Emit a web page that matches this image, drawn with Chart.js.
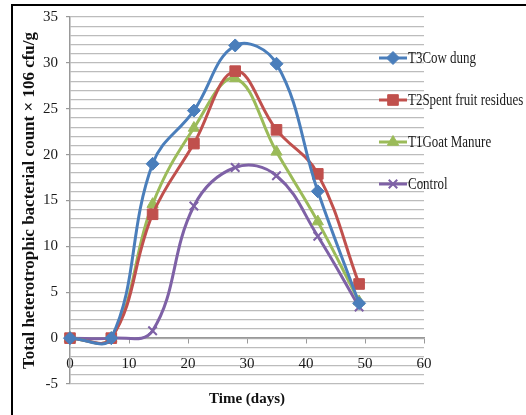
<html>
  <head>
    <title>Heterotrophic bacterial count</title>
    <style>
      body {
        margin: 0;
        background: #fff;
      }
      .frame {
        position: absolute;
        left: 11px;
        top: 4px;
        width: 520px;
        height: 420px;
        border-left: 2px solid #000;
        border-top: 2px solid #000;
      }
      .wrap {
        position: absolute;
        left: 0;
        top: 0;
        width: 526px;
        height: 415px;
      }
    </style>
  </head>
  <body>
    <div class="frame"></div>
    <div class="wrap">
      <canvas id="chart" width="526" height="415"></canvas>
    </div>

    <script src="https://cdn.jsdelivr.net/npm/chart.js@4"></script>
    <script type="text/javascript">
      const days = [0, 7, 14, 21, 28, 35, 42, 49];
      const cowDung = [0, 0, 19.0, 24.8, 31.9, 29.9, 16.0, 3.8];
      const spentFruit = [0, 0, 13.5, 21.2, 29.1, 22.7, 17.9, 5.9];
      const goatManure = [0, 0, 14.6, 22.9, 28.3, 20.3, 12.7, 4.0];
      const control = [0, 0, 0.8, 14.4, 18.6, 17.7, 11.1, 3.4];

      const serif = "'Liberation Serif', 'Times New Roman', serif";
      const gridGray = '#bcbcbc';

      const toPoints = (values) => values.map((v, i) => ({ x: days[i], y: v }));

      function series(label, values, color, pointStyle, radius) {
        return {
          label,
          data: toPoints(values),
          borderColor: color,
          backgroundColor: color,
          borderWidth: 3,
          pointStyle,
          pointRadius: radius,
          pointBorderWidth: pointStyle === 'crossRot' ? 2 : 1,
          tension: 0.4,
          clip: false,
        };
      }

      // legend drawn beside the plot, overlapping the grid like the original
      const sideLegend = {
        id: 'sideLegend',
        afterDraw(chart) {
          const { ctx, chartArea } = chart;
          ctx.save();
          chart.data.datasets.forEach((ds, i) => {
            const y = chartArea.top + 41 + i * 42;
            const x0 = chartArea.right - 45;
            ctx.strokeStyle = ds.borderColor;
            ctx.fillStyle = ds.backgroundColor;
            ctx.lineWidth = 3;
            ctx.beginPath();
            ctx.moveTo(x0, y);
            ctx.lineTo(x0 + 28, y);
            ctx.stroke();
            ctx.lineWidth = ds.pointBorderWidth;
            Chart.helpers.drawPoint(
              ctx,
              { pointStyle: ds.pointStyle, radius: ds.pointRadius, borderWidth: ds.pointBorderWidth, rotation: 0 },
              x0 + 14,
              y,
            );
            // the original text is a little narrow, squeeze it sideways
            ctx.save();
            ctx.translate(x0 + 29, y + 1);
            ctx.scale(0.81, 1);
            ctx.fillStyle = '#1a1a1a';
            ctx.font = '16px ' + serif;
            ctx.textBaseline = 'middle';
            ctx.fillText(ds.label, 0, 0);
            ctx.restore();
          });
          ctx.restore();
        },
      };

      new Chart(document.getElementById('chart'), {
        type: 'line',
        data: {
          datasets: [
            series('T3Cow dung', cowDung, '#4a7ebb', 'rectRot', 6.5),
            series('T2Spent fruit residues', spentFruit, '#c0504d', 'rect', 7.5),
            series('T1Goat Manure', goatManure, '#9bbb59', 'triangle', 6.5),
            series('Control', control, '#7e61a6', 'crossRot', 6),
          ],
        },
        options: {
          responsive: false,
          animation: false,
          layout: { padding: { top: 15, right: 102, bottom: 31, left: 0 } },
          plugins: {
            legend: { display: false },
            tooltip: { enabled: false },
          },
          scales: {
            x: {
              type: 'linear',
              min: 0,
              max: 60,
              position: { y: 0 },
              grid: {
                drawOnChartArea: false,
                drawTicks: true,
                tickLength: 5,
                tickColor: '#999',
              },
              border: { color: '#999', width: 1.5 },
              ticks: {
                stepSize: 10,
                padding: 12,
                color: '#1a1a1a',
                font: { family: serif, size: 15 },
              },
              title: {
                display: true,
                text: 'Time (days)',
                color: '#111',
                padding: { top: 5, bottom: 0 },
                font: { family: serif, size: 15, weight: 'bold' },
              },
            },
            y: {
              min: -5,
              max: 35,
              afterFit(scale) {
                scale.width = 70;
              },
              grid: {
                color: gridGray,
                lineWidth: 1.2,
                tickLength: 4,
                tickColor: (ctx) => (ctx.tick && ctx.tick.value % 5 === 0 ? '#999' : 'rgba(0,0,0,0)'),
              },
              border: { color: '#999', width: 1.5 },
              ticks: {
                stepSize: 1,
                autoSkip: false,
                padding: 8,
                color: '#1a1a1a',
                font: { family: serif, size: 15 },
                callback: (v) => (v % 5 === 0 ? v : ''),
              },
              title: {
                display: true,
                text: 'Total heterotrophic bacterial count \u00d7 106 cfu/g',
                color: '#111',
                padding: { top: 19, bottom: 0 },
                font: { family: serif, size: 17, weight: 'bold' },
              },
            },
          },
        },
        plugins: [sideLegend],
      });
    </script>
  </body>
</html>
